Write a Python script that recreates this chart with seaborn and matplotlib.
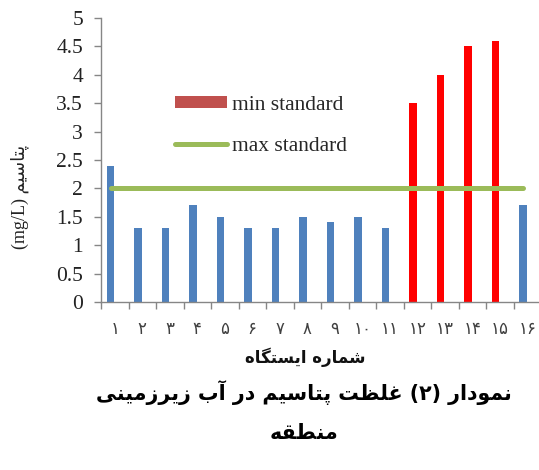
import re
import numpy as np
import pandas as pd
import matplotlib
matplotlib.use("Agg")
import matplotlib.pyplot as plt
from matplotlib.patches import Patch
from matplotlib.lines import Line2D
from matplotlib.ticker import FixedLocator, FixedFormatter, NullFormatter
import seaborn as sns

# ---- data -------------------------------------------------------------
stations = list(range(1, 17))
station_labels = ["۱", "۲", "۳", "۴", "۵", "۶", "۷", "۸",
                  "۹", "۱۰", "۱۱", "۱۲", "۱۳", "۱۴", "۱۵", "۱۶"]
potassium = [2.4, 1.3, 1.3, 1.7, 1.5, 1.3, 1.3, 1.5,
             1.4, 1.5, 1.3, 3.5, 4.0, 4.5, 4.6, 1.7]
status = ["ok", "ok", "ok", "ok", "ok", "ok", "ok", "ok",
          "ok", "ok", "ok", "high", "high", "high", "high", "ok"]
standard_limit = 2.0
y_ticks = [0, 0.5, 1, 1.5, 2, 2.5, 3, 3.5, 4, 4.5, 5]
y_tick_labels = ["0", "0.5", "1", "1.5", "2", "2.5", "3", "3.5", "4", "4.5", "5"]
legend_labels = ["min standard", "max standard"]

y_title = "پتاسیم (mg/L)"
x_title = "شماره ایستگاه"
chart_title = ["نمودار (۲) غلظت پتاسیم در آب زیرزمینی", "منطقه"]

# ---- Persian text: contextual letter forms + right-to-left ordering ----
FORMS = {
    "ا": ("\uFE8D", "\uFE8E", None, None),
    "آ": ("\uFE81", "\uFE82", None, None),
    "ب": ("\uFE8F", "\uFE90", "\uFE91", "\uFE92"),
    "پ": ("\uFB56", "\uFB57", "\uFB58", "\uFB59"),
    "ت": ("\uFE95", "\uFE96", "\uFE97", "\uFE98"),
    "د": ("\uFEA9", "\uFEAA", None, None),
    "ر": ("\uFEAD", "\uFEAE", None, None),
    "ز": ("\uFEAF", "\uFEB0", None, None),
    "س": ("\uFEB1", "\uFEB2", "\uFEB3", "\uFEB4"),
    "ش": ("\uFEB5", "\uFEB6", "\uFEB7", "\uFEB8"),
    "ط": ("\uFEC1", "\uFEC2", "\uFEC3", "\uFEC4"),
    "ظ": ("\uFEC5", "\uFEC6", "\uFEC7", "\uFEC8"),
    "غ": ("\uFECD", "\uFECE", "\uFECF", "\uFED0"),
    "ق": ("\uFED5", "\uFED6", "\uFED7", "\uFED8"),
    "گ": ("\uFB92", "\uFB93", "\uFB94", "\uFB95"),
    "ل": ("\uFEDD", "\uFEDE", "\uFEDF", "\uFEE0"),
    "م": ("\uFEE1", "\uFEE2", "\uFEE3", "\uFEE4"),
    "ن": ("\uFEE5", "\uFEE6", "\uFEE7", "\uFEE8"),
    "ه": ("\uFEE9", "\uFEEA", "\uFEEB", "\uFEEC"),
    "و": ("\uFEED", "\uFEEE", None, None),
    "ی": ("\uFBFC", "\uFBFD", "\uFBFE", "\uFBFF"),
}


def shape(text):
    out = []
    for i, ch in enumerate(text):
        if ch not in FORMS:
            out.append(ch)
            continue
        iso, fin, ini, med = FORMS[ch]
        prev = text[i - 1] if i > 0 else ""
        nxt = text[i + 1] if i + 1 < len(text) else ""
        join_prev = prev in FORMS and FORMS[prev][2] is not None
        join_next = ini is not None and nxt in FORMS
        if join_prev and join_next:
            out.append(med)
        elif join_prev:
            out.append(fin)
        elif join_next:
            out.append(ini)
        else:
            out.append(iso)
    return "".join(out)


def rtl(text):
    s = shape(text)[::-1].translate(str.maketrans("()", ")("))
    return re.sub(r"[A-Za-z0-9/۰-۹]+", lambda m: m.group(0)[::-1], s)


# ---- style ---------------------------------------------------------------
sns.set_style("ticks")
plt.rcParams["font.family"] = ["Liberation Serif", "DejaVu Sans"]
axis_grey = "#868686"
blue, red, green, legend_red = "#4F81BD", "#FF0000", "#9BBB59", "#C0504D"

W, H = 539, 470
fig = plt.figure(figsize=(W / 100, H / 100), dpi=100)
ax = fig.add_axes([101 / W, (H - 302) / H, 440 / W, 284 / H])

df = pd.DataFrame({"station": stations, "value": potassium, "status": status})
shift = 0.15  # bars sit slightly left of the category centre
df["xpos"] = df["station"] - shift

sns.barplot(data=df, x="xpos", y="value", hue="status",
            palette={"ok": blue, "high": red}, native_scale=True,
            width=0.27, dodge=False, legend=False, ax=ax, linewidth=0,
            saturation=1)

sns.lineplot(x=[df["xpos"].min(), df["xpos"].max()],
             y=[standard_limit, standard_limit], color=green, lw=3.6,
             solid_capstyle="round", ax=ax)

ax.set_xlim(0.5, 16.5)
ax.set_ylim(0, 5)
ax.set_xlabel("")
ax.set_ylabel("")

# x: tick marks on category boundaries, labels at centres
ax.xaxis.set_major_locator(FixedLocator(np.arange(0.5, 17, 1)))
ax.xaxis.set_major_formatter(NullFormatter())
ax.xaxis.set_minor_locator(FixedLocator(stations))
ax.xaxis.set_minor_formatter(FixedFormatter(station_labels))
ax.tick_params(axis="x", which="major", length=5, width=1, color=axis_grey)
ax.tick_params(axis="x", which="minor", length=0, pad=13, labelsize=12,
               labelcolor="#404040")
for lab in ax.get_xticklabels(minor=True):
    lab.set_family("DejaVu Sans")

ax.set_yticks(y_ticks)
ax.set_yticklabels(y_tick_labels)
ax.tick_params(axis="y", length=5, width=1, color=axis_grey, pad=8,
               labelsize=15.5, labelcolor="#222222")

sns.despine(ax=ax)
for side in ("left", "bottom"):
    ax.spines[side].set_color(axis_grey)
    ax.spines[side].set_linewidth(1)

handles = [Patch(facecolor=legend_red, edgecolor="none"),
           Line2D([0], [0], color=green, lw=3.6, solid_capstyle="round")]
fig.legend(handles, legend_labels, loc="upper left",
           bbox_to_anchor=(175 / W, 1 - 96 / H), frameon=False,
           fontsize=15.5, handlelength=2.4, handleheight=0.5,
           handletextpad=0.25, labelspacing=1.0, borderpad=0,
           borderaxespad=0)

fig.text(20 / W, 1 - 197 / H, rtl(y_title), rotation=90, ha="center",
         va="center", fontsize=13, color="#222222")
fig.text(305 / W, 1 - 357 / H, rtl(x_title), ha="center", va="center",
         fontsize=12, fontweight="bold", family="DejaVu Sans", color="#111111")
fig.text(304 / W, 1 - 393 / H, rtl(chart_title[0]), ha="center", va="center",
         fontsize=14.8, fontweight="bold", family="DejaVu Sans", color="black")
fig.text(304 / W, 1 - 433 / H, rtl(chart_title[1]), ha="center", va="center",
         fontsize=14.8, fontweight="bold", family="DejaVu Sans", color="black")

fig.savefig("out.png", dpi=100)
